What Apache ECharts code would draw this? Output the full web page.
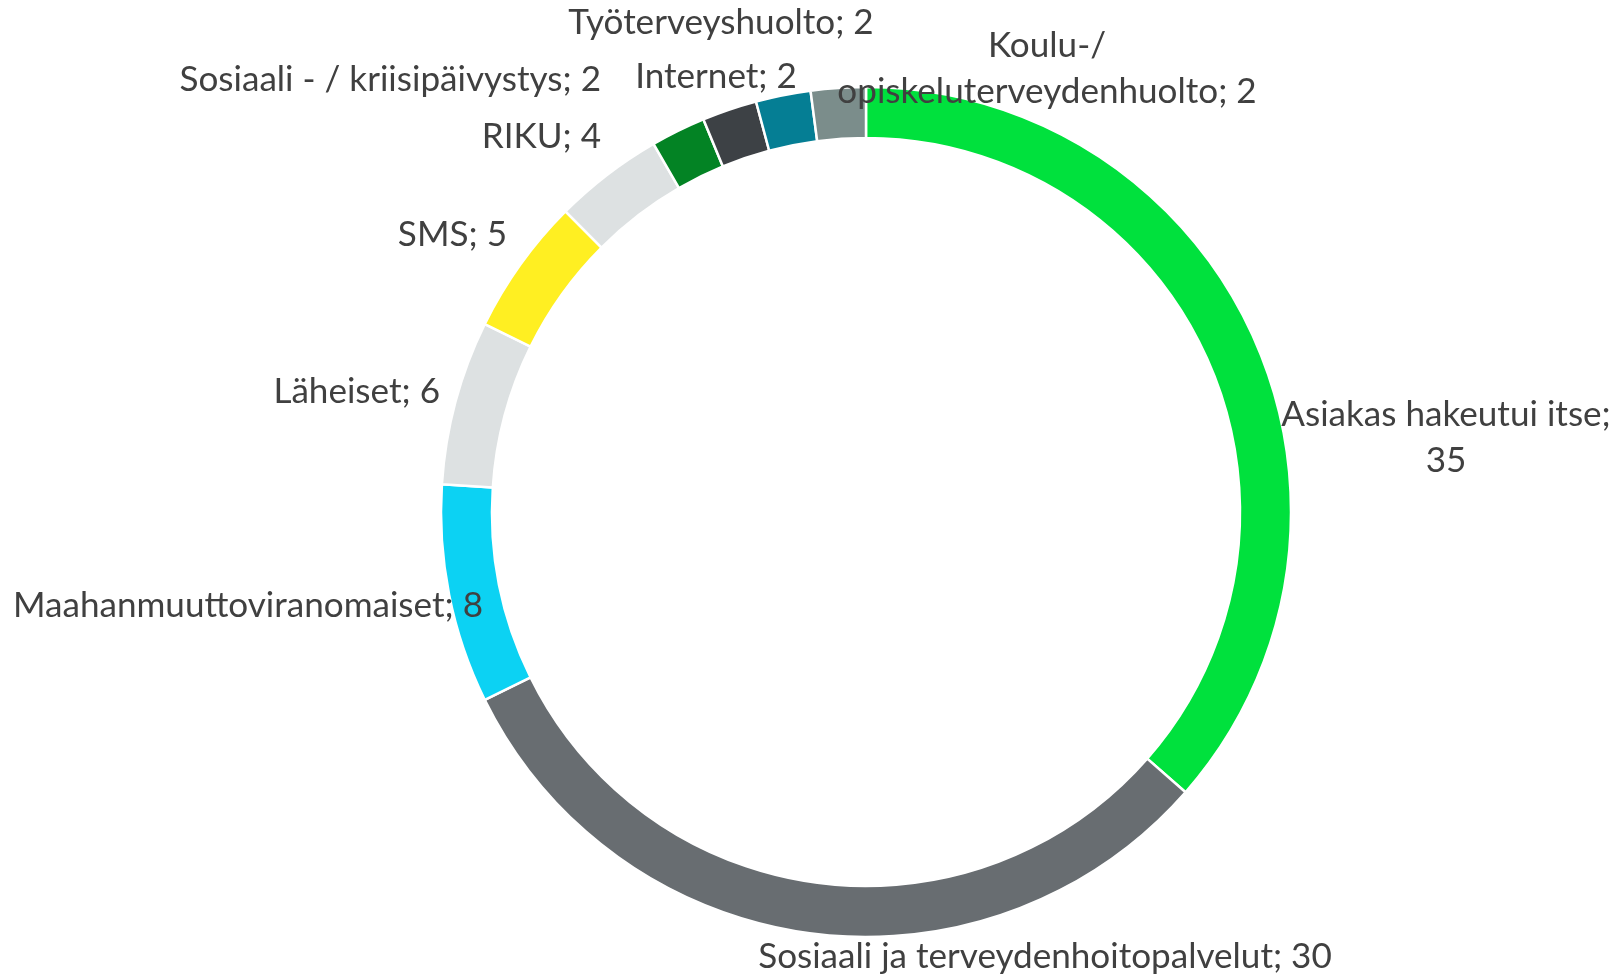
<!DOCTYPE html>
<html>
<head>
<meta charset="utf-8">
<script src="https://cdn.jsdelivr.net/npm/echarts@6/dist/echarts.min.js"></script>
<style>
html,body{margin:0;padding:0;background:#fff;}
#chart{width:1617px;height:976px;}
</style>
</head>
<body>
<div id="chart"></div>
<script>
// ---- data ----
const categories = [
  'Asiakas hakeutui itse',
  'Sosiaali ja terveydenhoitopalvelut',
  'Maahanmuuttoviranomaiset',
  'Läheiset',
  'SMS',
  'RIKU',
  'Sosiaali - / kriisipäivystys',
  'Internet',
  'Työterveyshuolto',
  'Koulu-/\nopiskeluterveydenhuolto'
];
const values = [35, 30, 8, 6, 5, 4, 2, 2, 2, 2];
const labelTexts = [
  'Asiakas hakeutui itse;\n35',
  'Sosiaali ja terveydenhoitopalvelut; 30',
  'Maahanmuuttoviranomaiset; 8',
  'Läheiset; 6',
  'SMS; 5',
  'RIKU; 4',
  'Sosiaali - / kriisipäivystys; 2',
  'Internet; 2',
  'Työterveyshuolto; 2',
  'Koulu-/\nopiskeluterveydenhuolto; 2'
];
const colors = ['#00E13D','#686D71','#0CD2F3','#DDE1E2','#FFEF22','#DDE1E2','#038324','#3D4145','#057E94','#7B8D8B'];

// ---- label layout (pixel anchors, align) ----
const labelAnchors = [
  [1446, 438, 'center'],
  [1045, 957, 'center'],
  [483, 606, 'right'],
  [440, 392, 'right'],
  [507, 235, 'right'],
  [601, 137, 'right'],
  [601, 80, 'right'],
  [716, 77, 'center'],
  [721, 23, 'center'],
  [1047, 69, 'center']
];

const FONT = 'Lato';
// fit font size to reference width of the longest single-line label
const cv = document.createElement('canvas').getContext('2d');
cv.font = '100px ' + FONT;
const w100 = cv.measureText('Maahanmuuttoviranomaiset; 8').width;
const fontSize = Math.round(100 * 470 / w100 * 10) / 10;

const chart = echarts.init(document.getElementById('chart'), null, {renderer:'canvas'});
chart.setOption({
  backgroundColor: '#ffffff',
  animation: false,
  series: [{
    type: 'pie',
    center: [866, 512],
    radius: [374, 425],
    startAngle: 90,
    clockwise: true,
    avoidLabelOverlap: false,
    itemStyle: { borderColor: '#ffffff', borderWidth: 2.5 },
    label: {
      show: true,
      position: 'outside',
      color: '#404040',
      fontFamily: FONT,
      fontSize: fontSize,
      lineHeight: 46,
      formatter: p => labelTexts[p.dataIndex]
    },
    labelLine: { show: false },
    labelLayout: function (p) {
      const a = labelAnchors[p.dataIndex];
      return { x: a[0], y: a[1], align: a[2], verticalAlign: 'middle' };
    },
    data: categories.map((c, i) => ({ name: c, value: values[i], itemStyle: { color: colors[i] } }))
  }]
});
</script>
</body>
</html>
